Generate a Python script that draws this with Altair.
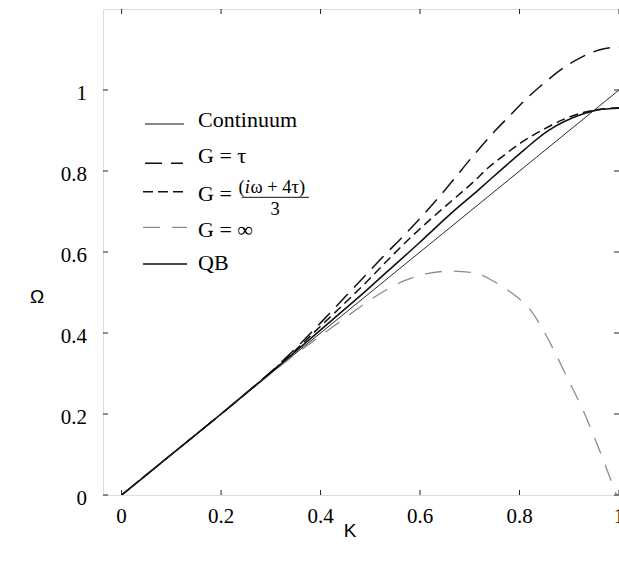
import altair as alt
import pandas as pd

# ---------------- data ----------------
K_CONT = [0.0, 1.0]
W_CONT = [0.0, 1.0]

K_TAU = [0, 0.1, 0.2, 0.25, 0.3, 0.35, 0.4, 0.45, 0.49, 0.523, 0.57, 0.617,
         0.663, 0.703, 0.75, 0.783, 0.817, 0.857, 0.89, 0.923, 0.97, 1.0]
W_TAU = [0, 0.1, 0.2, 0.251, 0.304, 0.362, 0.425, 0.49, 0.542, 0.585, 0.644, 0.706,
         0.772, 0.832, 0.898, 0.94, 0.982, 1.025, 1.056, 1.08, 1.102, 1.106]

K_G3 = [0, 0.1, 0.2, 0.25, 0.3, 0.35, 0.383, 0.437, 0.49, 0.543, 0.583, 0.623,
        0.67, 0.71, 0.737, 0.77, 0.803, 0.85, 0.89, 0.93, 0.96, 1.0]
W_G3 = [0, 0.1, 0.2, 0.251, 0.303, 0.358, 0.397, 0.46, 0.523, 0.59, 0.638, 0.683,
        0.733, 0.776, 0.808, 0.84, 0.87, 0.904, 0.928, 0.945, 0.952, 0.956]

K_INF = [0, 0.1, 0.2, 0.25, 0.3, 0.35, 0.4, 0.45, 0.5, 0.53, 0.57, 0.617, 0.663,
         0.71, 0.753, 0.783, 0.823, 0.853, 0.897, 0.93, 0.957, 0.995]
W_INF = [0, 0.1, 0.2, 0.25, 0.3, 0.348, 0.393, 0.438, 0.482, 0.505, 0.53, 0.547, 0.553,
         0.548, 0.524, 0.5, 0.455, 0.395, 0.287, 0.203, 0.122, 0.0]

K_QB = [0, 0.1, 0.2, 0.25, 0.3, 0.357, 0.423, 0.49, 0.53, 0.597, 0.663, 0.717,
        0.763, 0.81, 0.857, 0.89, 0.93, 0.957, 1.0]
W_QB = [0, 0.1, 0.2, 0.251, 0.302, 0.362, 0.432, 0.503, 0.547, 0.621, 0.696, 0.753,
        0.803, 0.853, 0.899, 0.922, 0.942, 0.951, 0.955]

X_TICKS = [0, 0.2, 0.4, 0.6, 0.8, 1.0]
X_LABELS = ["0", "0.2", "0.4", "0.6", "0.8", "1"]
Y_TICKS = [0, 0.2, 0.4, 0.6, 0.8, 1.0]
Y_LABELS = ["0", "0.2", "0.4", "0.6", "0.8", "1"]

SERIF = "Liberation Serif, Times New Roman, Times, DejaVu Serif, serif"
SANS = "Liberation Sans, Arial, Helvetica, sans-serif"

# name, K, Omega, color, width, dash
SERIES = [
    ("Continuum", K_CONT, W_CONT, "#111111", 0.9, None),
    ("G = τ", K_TAU, W_TAU, "#111111", 1.5, [17, 9]),
    ("G = (iω + 4τ)/3", K_G3, W_G3, "#111111", 1.5, [9, 5]),
    ("G = ∞", K_INF, W_INF, "#8c8c8c", 1.3, [17, 12]),
    ("QB", K_QB, W_QB, "#111111", 1.6, None),
]

W_PX, H_PX = 516, 486
TICK = 5

XS = alt.Scale(domain=[-0.0374, 1.0], nice=False, zero=False)
YS = alt.Scale(domain=[0, 1.2], nice=False, zero=False)

layers = []
for name, ks, ws, color, width, dash in SERIES:
    df = pd.DataFrame({"K": ks, "W": ws})
    kw = dict(color=color, strokeWidth=width, interpolate="monotone", clip=True)
    if dash:
        kw["strokeDash"] = dash
    layers.append(
        alt.Chart(df).mark_line(**kw).encode(
            x=alt.X("K:Q", scale=XS, axis=None),
            y=alt.Y("W:Q", scale=YS, axis=None),
        )
    )

# inward tick marks on all four sides, placed through the scales
xt = pd.DataFrame({"K": X_TICKS, "lab": X_LABELS})
yt = pd.DataFrame({"W": Y_TICKS, "lab": Y_LABELS})
tick_kw = dict(color="#222222", strokeWidth=1)
layers += [
    alt.Chart(xt).mark_rule(**tick_kw).encode(
        x=alt.X("K:Q", scale=XS, axis=None), y=alt.value(H_PX), y2=alt.value(H_PX - TICK)),
    alt.Chart(xt).mark_rule(**tick_kw).encode(
        x=alt.X("K:Q", scale=XS, axis=None), y=alt.value(0), y2=alt.value(TICK)),
    alt.Chart(yt).mark_rule(**tick_kw).encode(
        y=alt.Y("W:Q", scale=YS, axis=None), x=alt.value(0), x2=alt.value(TICK)),
    alt.Chart(yt).mark_rule(**tick_kw).encode(
        y=alt.Y("W:Q", scale=YS, axis=None), x=alt.value(W_PX), x2=alt.value(W_PX - TICK)),
    # tick labels
    alt.Chart(xt).mark_text(font=SERIF, fontSize=21, color="black", align="center",
                            baseline="alphabetic").encode(
        x=alt.X("K:Q", scale=XS, axis=None), y=alt.value(514), text="lab:N"),
    alt.Chart(yt).mark_text(font=SERIF, fontSize=21, color="black", align="right",
                            baseline="alphabetic", dy=9.5).encode(
        y=alt.Y("W:Q", scale=YS, axis=None), x=alt.value(-16), text="lab:N"),
]

one = pd.DataFrame({"a": [0]})


def seg(x1, x2, y, color, width, dash=None):
    kw = dict(color=color, strokeWidth=width)
    if dash:
        kw["strokeDash"] = dash
    return alt.Chart(one).mark_rule(**kw).encode(
        x=alt.value(x1), x2=alt.value(x2), y=alt.value(y))


def txt(s, x, y, size=22, font=SERIF, style="normal", align="left"):
    return alt.Chart(pd.DataFrame({"t": [s]})).mark_text(
        font=font, fontSize=size, fontStyle=style, align=align, baseline="alphabetic",
        color="black").encode(x=alt.value(x), y=alt.value(y), text="t:N")


# legend samples
layers += [
    seg(42, 81, 115, "#111111", 1.0),
    seg(42, 80, 154.3, "#111111", 1.5, [17, 9]),
    seg(40, 80, 182.7, "#111111", 1.5, [10, 5]),
    seg(40, 84, 218.3, "#8c8c8c", 1.3, [17, 12]),
    seg(40, 84, 255, "#111111", 1.6),
]
# legend texts
layers += [
    txt("Continuum", 95, 118.3),
    txt("G = τ", 95, 154.3),
    txt("G =", 95, 191.7),
    txt("(", 135.5, 183.7, size=18.5),
    txt("i", 141.7, 183.7, size=18.5, style="italic"),
    txt("ω + 4τ)", 147.5, 183.7, size=18.5),
    seg(138.7, 206, 188.3, "#111111", 1),
    txt("3", 172, 206, size=18.5, align="center"),
    txt("G = ∞", 95, 227.7),
    txt("QB", 95, 261),
]
# axis titles
layers += [
    txt("Ω", -66, 294, size=19, font=SANS, align="center"),
    txt("K", 247, 528, size=19, font=SANS, align="center"),
]

chart = alt.layer(*layers).properties(
    width=W_PX, height=H_PX,
    autosize=alt.AutoSizeParams(type="none"),
    padding={"left": 103, "top": 9, "right": 0, "bottom": 73},
).configure_view(stroke="#222222", strokeWidth=1.2).configure(background="white")

chart.save("out.html", embed_options={"renderer": "svg", "actions": False})
